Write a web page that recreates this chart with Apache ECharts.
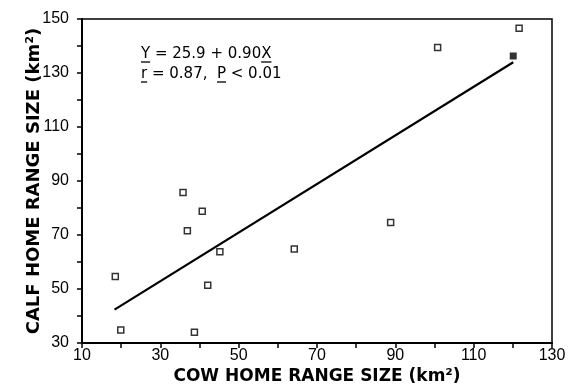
<!DOCTYPE html>
<html>
<head>
<meta charset="utf-8">
<title>Calf vs cow home range size</title>
<script src="https://cdn.jsdelivr.net/npm/echarts@6/dist/echarts.min.js"></script>
<style>
  html, body { margin: 0; padding: 0; background: #fff; }
  #chart { width: 568px; height: 385px; }
</style>
</head>
<body>
<div id="chart"></div>
<script>
// Home range sizes (km²) for cow–calf pairs
const cowRange  = [18.5, 19.9, 35.8, 40.7, 36.9, 45.2, 42.1, 38.7, 64.2, 88.8, 100.8, 121.6];
const calfRange = [54.6, 34.8, 85.7, 78.8, 71.6, 63.8, 51.4, 34.0, 64.8, 74.6, 139.4, 146.6];
// pair drawn with a solid marker
const cowSolid  = [120.1];
const calfSolid = [136.3];

// least-squares fit  Y = 25.9 + 0.90X
const fitIntercept = 25.9;
const fitSlope = 0.90;
const fitSpan = [18.3, 120.1];

const xTickLabels = [10, 30, 50, 70, 90, 110, 130];
const yTickLabels = [30, 50, 70, 90, 110, 130, 150];

const pairs = cowRange.map((c, i) => [c, calfRange[i]]);
const solidPairs = cowSolid.map((c, i) => [c, calfSolid[i]]);
const fitLine = fitSpan.map(x => [x, fitIntercept + fitSlope * x]);

// text helpers for the statistics block (underlined symbols)
const statFont = '15px "DejaVu Sans"';
const ctx = document.createElement('canvas').getContext('2d');
ctx.font = statFont;
const w = s => ctx.measureText(s).width;

const statX = 141;
const line1Y = 59, line2Y = 79;   // baselines
const line1 = 'Y = 25.9 + 0.90X';
const line2 = 'r = 0.87,  P < 0.01';
function underline(x, y, width) {
  return {
    type: 'line',
    shape: { x1: x, y1: y, x2: x + width, y2: y },
    style: { stroke: '#000', lineWidth: 1.3 },
    silent: true
  };
}
function statText(text, baseline) {
  return {
    type: 'text',
    x: statX,
    y: baseline - 12,
    style: { text: text, font: statFont, fill: '#000', verticalAlign: 'top', align: 'left' },
    silent: true
  };
}

const chart = echarts.init(document.getElementById('chart'), null, { renderer: 'canvas' });

const axisText = { color: '#000', fontSize: 16, fontFamily: 'Liberation Sans' };
const nameText = size => ({ color: '#000', fontSize: size, fontWeight: 'bold', fontFamily: 'DejaVu Sans' });

chart.setOption({
  animation: false,
  backgroundColor: '#fff',
  grid: {
    left: 82, right: 16, top: 19, bottom: 42,
    outerBoundsMode: 'none',
    show: true, borderColor: '#000', borderWidth: 1.5, backgroundColor: 'transparent'
  },
  xAxis: {
    type: 'value', min: 10, max: 130, interval: 10,
    name: 'COW HOME RANGE SIZE (km²)',
    nameLocation: 'middle', nameGap: 25, nameMoveOverlap: false, nameTextStyle: nameText(17),
    axisLine: { show: true, lineStyle: { color: '#000', width: 2 } },
    axisTick: { show: true, inside: false, length: 5, lineStyle: { color: '#000', width: 1.5 } },
    axisLabel: Object.assign({
      margin: 5,
      formatter: v => xTickLabels.includes(v) ? String(v) : ''
    }, axisText),
    splitLine: { show: false }
  },
  yAxis: {
    type: 'value', min: 30, max: 150, interval: 10,
    name: 'CALF HOME RANGE SIZE (km²)',
    nameLocation: 'middle', nameGap: 39, nameMoveOverlap: false, nameTextStyle: nameText(18),
    axisLine: { show: true, lineStyle: { color: '#000', width: 2 } },
    axisTick: { show: true, inside: false, length: 5, lineStyle: { color: '#000', width: 1.5 } },
    axisLabel: Object.assign({
      margin: 13,
      formatter: v => yTickLabels.includes(v) ? String(v) : ''
    }, axisText),
    splitLine: { show: false }
  },
  series: [
    {
      type: 'line',
      data: fitLine,
      showSymbol: false,
      lineStyle: { color: '#000', width: 2.2 },
      z: 2
    },
    {
      type: 'scatter',
      data: pairs,
      symbol: 'rect',
      symbolSize: 6,
      itemStyle: { color: '#fff', borderColor: '#000', borderWidth: 1.5 },
      z: 3
    },
    {
      type: 'scatter',
      data: solidPairs,
      symbol: 'rect',
      symbolSize: 7,
      itemStyle: { color: '#000' },
      z: 3
    }
  ],
  graphic: [
    statText(line1, line1Y),
    statText(line2, line2Y),
    underline(statX, line1Y + 3, w('Y')),
    underline(statX + w('Y = 25.9 + 0.90'), line1Y + 3, w('X')),
    underline(statX, line2Y + 3, w('r')),
    underline(statX + w('r = 0.87,  '), line2Y + 3, w('P'))
  ]
});
</script>
</body>
</html>
